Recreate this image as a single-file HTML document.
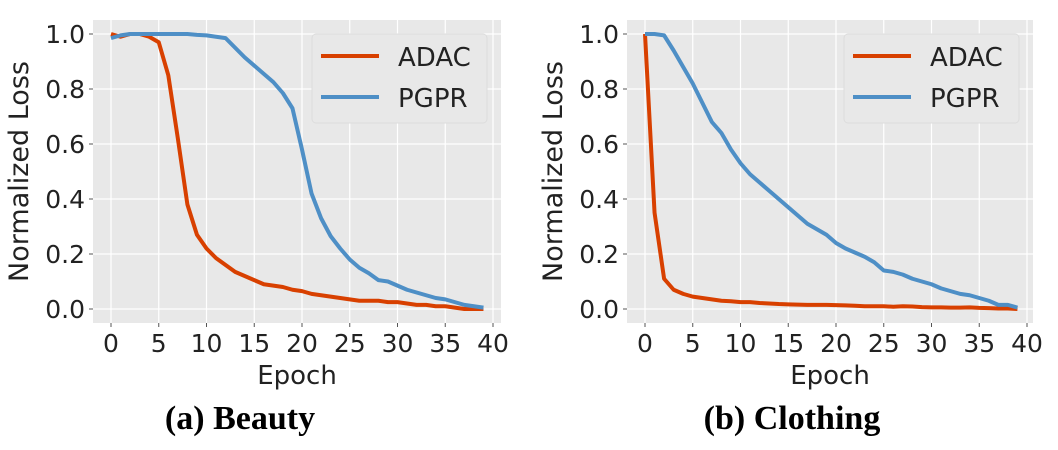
<!DOCTYPE html>
<html><head><meta charset="utf-8"><style>
body{margin:0;background:#fff;}
svg text{font-family:"DejaVu Sans",sans-serif;fill:#222;}
.cap{font-family:"Liberation Serif",serif;font-weight:bold;fill:#000;}
</style></head><body>
<svg id="svg" width="1058" height="445"></svg>
<script>
const epochs = Array.from({length:40},(_,i)=>i);
const beautyADAC = [1.0,0.99,1.0,1.0,0.99,0.97,0.85,0.62,0.38,0.27,0.22,0.185,0.16,0.135,0.12,0.105,0.09,0.085,0.08,0.07,0.065,0.055,0.05,0.045,0.04,0.035,0.03,0.03,0.03,0.025,0.025,0.02,0.015,0.015,0.01,0.01,0.005,0.0,0.0,0.0];
const beautyPGPR = [0.985,0.995,1.0,1.0,1.0,1.0,1.0,1.0,1.0,0.997,0.995,0.99,0.985,0.95,0.915,0.885,0.855,0.825,0.785,0.73,0.58,0.42,0.33,0.265,0.22,0.18,0.15,0.13,0.105,0.1,0.085,0.07,0.06,0.05,0.04,0.035,0.025,0.015,0.01,0.005];
const clothADAC = [1.0,0.35,0.11,0.07,0.055,0.045,0.04,0.035,0.03,0.028,0.025,0.025,0.022,0.02,0.018,0.017,0.016,0.015,0.015,0.015,0.014,0.013,0.012,0.01,0.01,0.01,0.008,0.01,0.009,0.007,0.006,0.006,0.005,0.005,0.006,0.004,0.003,0.002,0.002,0.0];
const clothPGPR = [1.0,1.0,0.995,0.94,0.88,0.82,0.75,0.68,0.64,0.58,0.53,0.49,0.46,0.43,0.40,0.37,0.34,0.31,0.29,0.27,0.24,0.22,0.205,0.19,0.17,0.14,0.135,0.125,0.11,0.1,0.09,0.075,0.065,0.055,0.05,0.04,0.03,0.015,0.015,0.005];
const xTicks = [0,5,10,15,20,25,30,35,40];
const yTicks = [0,0.2,0.4,0.6,0.8,1.0];
const yTickLabels = ["0.0","0.2","0.4","0.6","0.8","1.0"];
const svg=document.getElementById('svg');
const NS='http://www.w3.org/2000/svg';
function el(tag,attrs,parent){const e=document.createElementNS(NS,tag);for(const k in attrs)e.setAttribute(k,attrs[k]);(parent||svg).appendChild(e);return e;}
function panel(px0,pLeft,pRight,name,caption,capX,adac,pgpr){
  const g=el('g',{});
  
  
  const top=20,bottom=323;
  const xs=v=>px0+v*(382/40);
  const ys=v=>309-v*275;
  const bg=el('rect',{x:pLeft,y:top,width:pRight-pLeft,height:bottom-top,fill:'#e8e8e8'},g);
  
  
  xTicks.forEach(t=>{
    el('line',{x1:xs(t),x2:xs(t),y1:top,y2:bottom,stroke:'#fff','stroke-width':1.2},g);
    el('line',{x1:xs(t),x2:xs(t),y1:bottom,y2:bottom+4,stroke:'#555','stroke-width':1},g);
    const tx=el('text',{x:xs(t),y:352,'text-anchor':'middle','font-size':25},g);tx.textContent=t;
    
    
  });
  yTicks.forEach((t,i)=>{
    el('line',{x1:pLeft,x2:pRight,y1:ys(t),y2:ys(t),stroke:'#fff','stroke-width':1.2},g);
    el('line',{x1:pLeft-4,x2:pLeft,y1:ys(t),y2:ys(t),stroke:'#555','stroke-width':1},g);
    const tx=el('text',{x:pLeft-8,y:ys(t)+9,'text-anchor':'end','font-size':25},g);tx.textContent=yTickLabels[i];
    
    
  });
  [[adac,'#d84000','adac-line'],[pgpr,'#4e8fc6','pgpr-line']].forEach(([d,c,n])=>{
    const p=el('polyline',{points:d.map((v,i)=>xs(epochs[i])+','+ys(v)).join(' '),fill:'none',stroke:c,'stroke-width':4,'stroke-linejoin':'round'},g);
    
    
  });
  const lx=pRight-189;
  const lg=el('g',{},g);
  
  
  el('rect',{x:lx,y:34,width:175,height:89,rx:4,fill:'#e8e8e8',stroke:'#dcdcdc'},lg);
  el('line',{x1:lx+9,x2:lx+67,y1:56,y2:56,stroke:'#d84000','stroke-width':4},lg);
  el('line',{x1:lx+9,x2:lx+67,y1:97,y2:97,stroke:'#4e8fc6','stroke-width':4},lg);
  const a=el('text',{x:lx+86,y:66,'font-size':26},lg);a.textContent='ADAC';
  
  
  const b=el('text',{x:lx+86,y:107,'font-size':26},lg);b.textContent='PGPR';
  
  
  const xl=el('text',{x:(pLeft+pRight)/2,y:384,'text-anchor':'middle','font-size':26},g);xl.textContent='Epoch';
  
  
  const yl=el('text',{x:0,y:0,'text-anchor':'middle','font-size':27,transform:`translate(${pLeft-65},${(top+bottom)/2}) rotate(-90)`},g);yl.textContent='Normalized Loss';
  
  
  const c=el('text',{x:capX,y:429,'text-anchor':'middle','font-size':34,class:'cap'},g);c.textContent=caption;
  
  
}
panel(111,93,501,'beauty-chart','(a) Beauty',240,beautyADAC,beautyPGPR);
panel(645,627,1033,'clothing-chart','(b) Clothing',792,clothADAC,clothPGPR);
</script>
</body></html>
